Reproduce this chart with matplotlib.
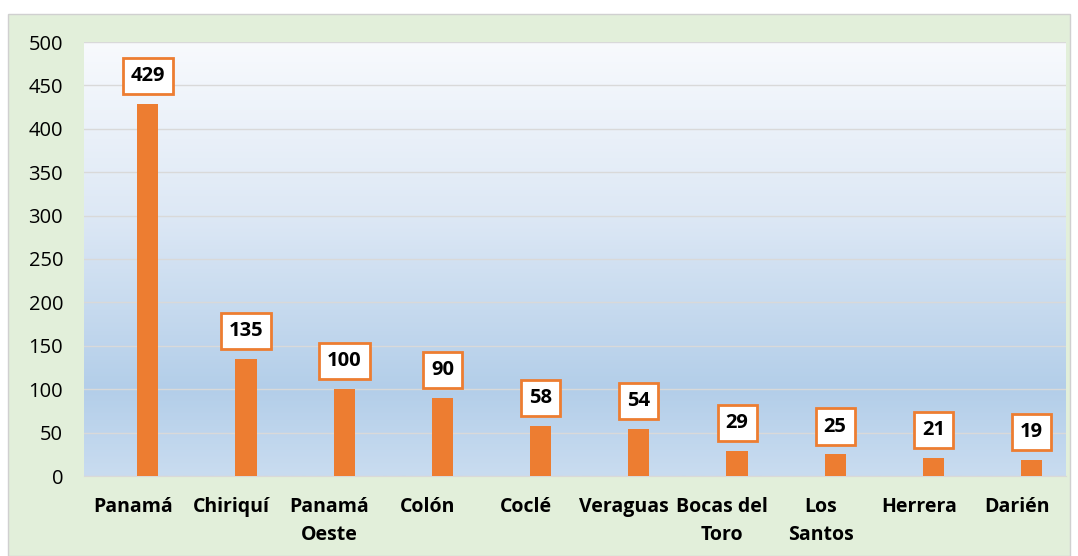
import matplotlib.pyplot as plt
import numpy as np
from matplotlib.colors import LinearSegmentedColormap
from matplotlib.patches import Rectangle

provincias = ['Panamá', 'Chiriquí', 'Panamá\nOeste', 'Colón', 'Coclé',
              'Veraguas', 'Bocas del\nToro', 'Los\nSantos', 'Herrera', 'Darién']
casos = [429, 135, 100, 90, 58, 54, 29, 25, 21, 19]
yticks = [0, 50, 100, 150, 200, 250, 300, 350, 400, 450, 500]

plt.rcParams['font.family'] = ['Open Sans', 'DejaVu Sans']

fig = plt.figure(figsize=(10.78, 5.56), dpi=100)
fig.patch.set_facecolor('white')

# fondo verde con borde
fig.patches.append(Rectangle((8 / 1078, 0), 1062 / 1078, 542 / 556,
                             transform=fig.transFigure, facecolor='#E2EFDA',
                             edgecolor='#D0D0D0', linewidth=1, zorder=-10))

ax = fig.add_axes([84 / 1078, (556 - 476) / 556, 982 / 1078, 434 / 556])
ax.set_facecolor('none')

# degradado del área de trazado
cmap = LinearSegmentedColormap.from_list('fondo', [
    (0.0, '#F8FAFD'), (0.4, '#DDE8F5'), (0.8, '#B3CEE9'), (1.0, '#C9DCF0')])
grad = np.linspace(0, 1, 256).reshape(-1, 1)
ax.imshow(grad, cmap=cmap, aspect='auto', extent=[-0.5, 9.5, 0, 500],
          origin='upper', zorder=0)

x = np.arange(len(provincias))
desp = 0.15  # las barras van corridas a la derecha de la categoría
ax.bar(x + desp, casos, width=0.215, color='#ED7D31', zorder=3)

for xi, v in zip(x, casos):
    ax.annotate(str(v), (xi + desp, v), xytext=(0, 20),
                textcoords='offset points', ha='center', va='center',
                fontsize=14.5, fontweight='bold', zorder=5,
                bbox=dict(boxstyle='square,pad=0.4', facecolor='white',
                          edgecolor='#ED7D31', linewidth=2))

ax.set_xlim(-0.5, 9.5)
ax.set_ylim(0, 500)
ax.set_yticks(yticks)
ax.set_yticklabels([str(t) for t in yticks], fontsize=14.5)
ax.set_xticks(x)
ax.set_xticklabels(provincias, fontsize=14, fontweight='bold',
                   linespacing=1.55)
ax.tick_params(axis='both', length=0)
ax.tick_params(axis='x', pad=15)
ax.tick_params(axis='y', pad=15)
ax.grid(axis='y', color='#D9D9D9', linewidth=1, zorder=1)
ax.set_axisbelow(True)
for s in ['top', 'right', 'left']:
    ax.spines[s].set_visible(False)
ax.spines['bottom'].set_color('#D9D9D9')

plt.savefig('out.png', dpi=100)
